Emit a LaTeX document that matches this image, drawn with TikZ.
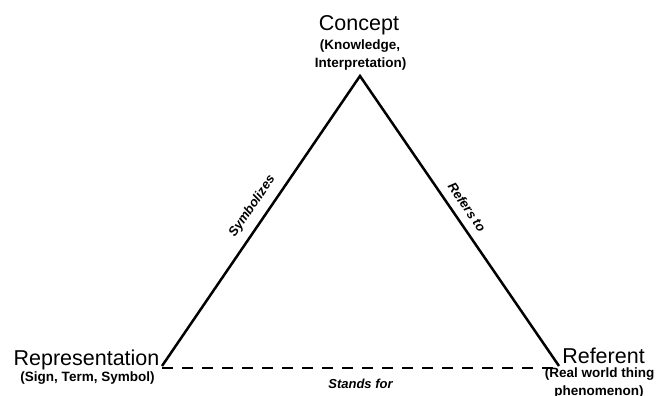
\documentclass[tikz,border=0pt]{standalone}
\usepackage{fontspec}
\setmainfont{Liberation Sans}
\begin{document}
\begin{tikzpicture}[x=1pt,y=-1pt,
  titletext/.style={inner sep=0pt, anchor=base, font=\fontsize{21.5}{24}\selectfont},
  subtext/.style={inner sep=0pt, anchor=base, font=\bfseries\fontsize{13.5}{16}\selectfont},
  edgelabel/.style={inner sep=0pt, font=\bfseries\itshape\fontsize{13}{15}\selectfont},
  side/.style={line width=2.5pt, line join=miter},
  base/.style={line width=2.5pt, dash pattern=on 11pt off 9pt}]
\useasboundingbox (0,0) rectangle (656,396);
\coordinate (apex) at (360,76);
\coordinate (left) at (162,366);
\coordinate (right) at (559,366);
\coordinate (leftb) at (162,368);
\coordinate (rightb) at (559,368);
\draw[side] (left) -- node[edgelabel, sloped, above=8pt, pos=0.52] (symb) {Symbolizes} (apex)
  -- node[edgelabel, sloped, above=8pt, pos=0.48] (refto) {Refers to} (right);
\draw[base] (leftb) -- node[edgelabel, below=10pt, pos=0.5] (stands) {Stands for} (rightb);
\node[titletext] (concept) at (359,30.5) {Concept};
\node[subtext] (know) at (360,50) {(Knowledge,};
\node[subtext] (interp) at (360.5,68) {Interpretation)};
\node[titletext] (repr) at (86.5,365) {Representation};
\node[subtext] (sign) at (87.5,381) {(Sign, Term, Symbol)};
\node[titletext] (refer) at (603.5,363) {Referent};
\node[subtext] (real) at (599.5,377.5) {(Real world thing};
\node[subtext] (phen) at (599,395.5) {phenomenon)};
\end{tikzpicture}
\end{document}
